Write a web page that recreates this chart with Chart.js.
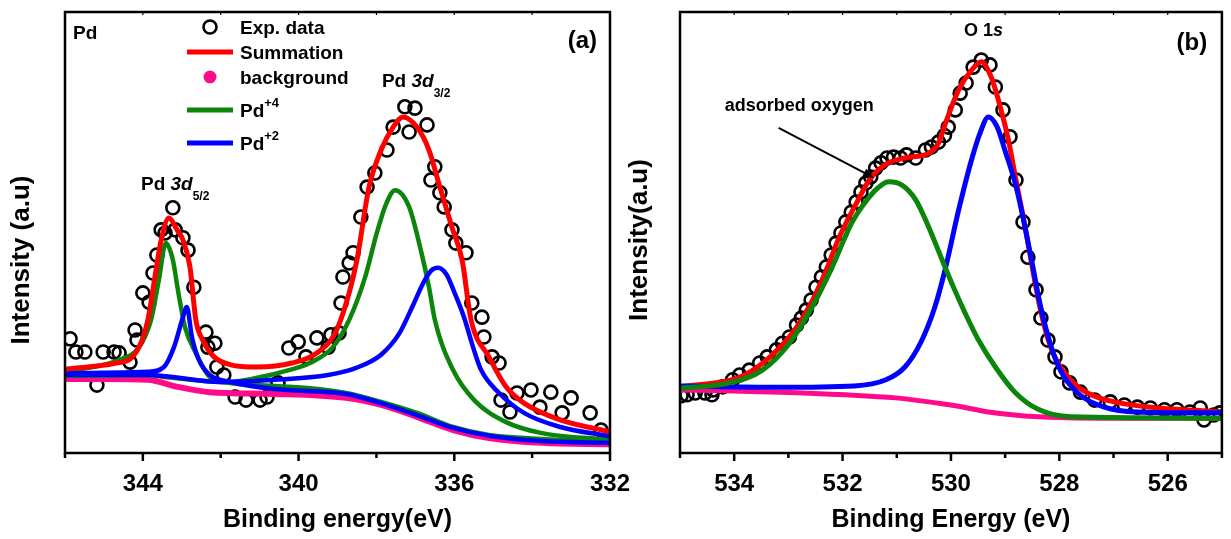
<!DOCTYPE html>
<html>
<head>
<meta charset="utf-8">
<title>Pd 3d and O 1s XPS</title>
<script src="https://cdn.jsdelivr.net/npm/chart.js@4.4.1/dist/chart.umd.min.js"></script>
<style>
  html, body { margin: 0; padding: 0; background: #fff; }
  #wrap { position: relative; width: 1231px; height: 539px; overflow: hidden; }
  #chartA { position: absolute; left: 0; top: 0; }
  #chartB { position: absolute; left: 624px; top: 0; }
</style>
</head>
<body>
<div id="wrap">
  <canvas id="chartA" width="640" height="539"></canvas>
  <canvas id="chartB" width="607" height="539"></canvas>
</div>
<script>
const FONT = "'Liberation Sans', Arial, Helvetica, sans-serif";
const RED = '#ff0000', PINK = '#ff0a8a', GREEN = '#0b860b', BLUE = '#0000ff';

// ---- panel (a) : Pd 3d ----
const aTickLabels = [344, 340, 336, 332];
const aMinorTicks = [346, 342, 338, 334];
const aTopTicks = [344, 342, 340, 338, 336, 334];

const aExpEV = [345.87, 345.72, 345.49, 345.18, 345.02, 344.74, 344.61, 344.33, 344.20, 344.15, 344.00, 343.84, 343.74, 343.64, 343.53, 343.43, 343.23, 343.17, 342.97, 342.84, 342.69, 342.38, 342.33, 342.15, 342.10, 341.92, 341.63, 341.35, 340.99, 340.81, 340.53, 340.25, 340.01, 339.81, 339.53, 339.24, 339.17, 338.96, 338.91, 338.86, 338.70, 338.60, 338.40, 338.24, 338.04, 337.73, 337.57, 337.27, 337.16, 337.01, 336.70, 336.60, 336.50, 336.37, 336.26, 336.06, 335.96, 335.70, 335.55, 335.29, 335.24, 335.03, 334.85, 334.80, 334.57, 334.39, 334.03, 333.80, 333.52, 333.23, 333.00, 332.51, 332.23];
const aExpI = [25.9, 22.9, 22.9, 15.4, 22.9, 22.9, 22.7, 20.6, 27.9, 25.6, 36.3, 34.2, 40.8, 44.9, 50.6, 49.9, 55.6, 50.6, 48.8, 46.0, 37.6, 27.4, 24.0, 24.9, 19.5, 17.7, 12.7, 12.0, 12.0, 12.7, 15.9, 23.8, 25.2, 21.8, 26.1, 24.0, 26.8, 27.2, 34.0, 39.9, 43.1, 45.4, 53.5, 60.3, 63.5, 68.7, 73.9, 78.5, 72.8, 78.2, 74.4, 61.9, 64.9, 59.0, 55.8, 50.6, 47.6, 45.4, 34.0, 30.8, 26.3, 21.8, 20.4, 12.0, 9.3, 13.6, 14.3, 10.4, 13.8, 9.1, 12.5, 9.1, 5.2];

const aSumEV = [346.00, 345.13, 344.74, 344.30, 344.02, 343.87, 343.69, 343.53, 343.33, 343.12, 342.97, 342.79, 342.64, 342.46, 342.17, 341.74, 341.09, 340.17, 339.53, 339.06, 338.70, 338.50, 338.19, 337.88, 337.57, 337.32, 336.96, 336.65, 336.37, 336.06, 335.80, 335.57, 335.11, 334.67, 334.21, 333.28, 332.00];
const aSumI = [19.0, 19.8, 20.3, 21.5, 25.6, 30.2, 39.9, 48.3, 53.3, 50.6, 48.3, 42.2, 30.2, 25.6, 21.8, 20.0, 19.5, 20.4, 22.7, 27.2, 36.3, 43.8, 60.3, 68.7, 73.9, 76.2, 73.9, 68.7, 60.3, 51.2, 43.8, 30.2, 21.8, 15.0, 11.3, 7.5, 4.8];

const aBgEV = [346.00, 345.00, 343.87, 343.10, 342.28, 340.63, 338.78, 337.88, 336.96, 336.03, 335.11, 333.75, 332.00];
const aBgI = [16.8, 16.8, 16.6, 15.0, 13.8, 13.4, 12.5, 10.9, 8.2, 5.2, 3.4, 2.3, 2.0];

// Pd+4, 3d5/2 and 3d3/2 components
const aPd4aEV = [346.00, 344.61, 344.10, 343.79, 343.59, 343.41, 343.23, 343.10, 342.92, 342.64, 342.28, 341.81, 341.09, 339.71, 338.78, 337.88, 336.96, 336.03, 335.11, 333.75, 332.00];
const aPd4aI = [18.4, 21.1, 24.0, 30.2, 39.2, 47.6, 43.8, 37.0, 28.6, 22.7, 17.2, 15.9, 15.4, 14.7, 13.6, 11.6, 9.1, 5.9, 4.1, 3.2, 2.5];
const aPd4bEV = [346.00, 343.87, 343.38, 341.81, 341.09, 340.25, 339.71, 339.12, 338.70, 338.29, 337.99, 337.75, 337.52, 337.16, 336.86, 336.65, 336.50, 336.03, 335.49, 334.67, 333.75, 332.00];
const aPd4bI = [17.5, 17.7, 17.2, 16.1, 17.0, 18.8, 20.4, 24.0, 30.2, 39.9, 49.9, 56.5, 59.6, 55.8, 46.0, 37.6, 30.2, 18.8, 12.0, 7.0, 4.5, 3.0];

// Pd+2, 3d5/2 and 3d3/2 components
const aPd2aEV = [346.00, 343.87, 343.46, 343.20, 342.97, 342.87, 342.74, 342.56, 342.28, 341.74, 340.63, 338.78, 337.88, 336.96, 336.03, 335.11, 333.75, 332.00];
const aPd2aI = [18.1, 18.4, 19.5, 24.0, 30.8, 33.1, 26.3, 21.1, 17.7, 16.1, 14.5, 13.4, 11.3, 8.6, 5.7, 3.9, 2.7, 2.3];
const aPd2bEV = [346.00, 343.87, 341.99, 340.63, 339.24, 338.52, 337.88, 337.42, 337.06, 336.80, 336.60, 336.42, 336.20, 336.00, 335.75, 335.50, 335.31, 334.85, 334.21, 333.28, 332.00];
const aPd2bI = [17.7, 17.7, 16.1, 16.6, 17.7, 19.3, 22.3, 27.0, 33.5, 38.5, 41.3, 42.0, 40.5, 36.5, 30.8, 23.5, 18.8, 13.6, 9.1, 5.9, 3.8];

// ---- panel (b) : O 1s ----
const bTickLabels = [534, 532, 530, 528, 526];
const bMinorTicks = [535, 533, 531, 529, 527, 525];
const bTopTicks = [534, 533, 532, 531, 530, 529, 528, 527, 526];

const bExpEV = [534.98, 534.87, 534.72, 534.54, 534.41, 534.39, 534.21, 534.03, 533.90, 533.72, 533.53, 533.39, 533.22, 533.11, 532.98, 532.85, 532.76, 532.67, 532.58, 532.49, 532.39, 532.30, 532.21, 532.12, 532.03, 531.94, 531.84, 531.75, 531.66, 531.57, 531.48, 531.39, 531.29, 531.18, 531.06, 530.93, 530.82, 530.65, 530.47, 530.36, 530.23, 530.12, 530.05, 529.92, 529.83, 529.72, 529.59, 529.44, 529.28, 529.18, 529.04, 528.91, 528.80, 528.67, 528.58, 528.43, 528.34, 528.21, 528.08, 527.97, 527.81, 527.61, 527.35, 527.06, 526.80, 526.56, 526.32, 526.06, 525.83, 525.59, 525.40, 525.33, 525.15, 525.04];
const bExpI = [13.0, 13.2, 13.6, 13.6, 13.2, 14.3, 15.0, 16.6, 17.7, 18.8, 20.4, 21.8, 23.4, 24.9, 26.3, 29.0, 30.6, 32.4, 34.7, 37.6, 39.9, 42.2, 44.9, 47.6, 49.9, 52.4, 54.6, 56.9, 59.2, 61.2, 62.6, 64.6, 65.8, 66.9, 67.1, 66.9, 67.6, 66.9, 68.7, 69.4, 70.5, 72.0, 73.9, 77.8, 81.6, 83.9, 87.5, 89.1, 88.0, 83.0, 77.8, 71.7, 61.9, 52.4, 44.4, 37.0, 30.6, 25.6, 21.8, 18.4, 15.9, 13.8, 12.0, 11.6, 10.9, 10.4, 10.2, 9.8, 9.8, 9.3, 10.2, 7.5, 8.6, 9.1];

const bSumEV = [535.00, 533.94, 533.59, 533.17, 532.85, 532.56, 532.30, 532.06, 531.75, 531.50, 531.20, 530.85, 530.41, 530.23, 530.08, 529.86, 529.62, 529.44, 529.26, 529.09, 528.94, 528.80, 528.63, 528.52, 528.36, 528.16, 527.84, 527.48, 526.87, 525.00];
const bSumI = [15.0, 17.0, 19.3, 23.8, 28.5, 34.5, 41.5, 49.0, 56.5, 62.0, 65.5, 66.9, 68.0, 70.3, 75.5, 82.3, 86.8, 88.7, 85.3, 78.5, 71.0, 61.9, 51.2, 43.5, 33.1, 24.0, 17.2, 13.6, 11.3, 9.3];

const bBgEV = [535.00, 533.17, 531.94, 531.02, 530.23, 529.86, 529.31, 528.39, 527.17, 525.00];
const bBgI = [14.3, 13.8, 13.2, 12.5, 11.3, 10.6, 9.3, 8.2, 7.9, 7.9];

const bAdsEV = [535.00, 534.08, 533.48, 532.98, 532.56, 532.19, 531.83, 531.51, 531.33, 531.15, 530.91, 530.65, 530.41, 530.17, 529.95, 529.73, 529.50, 529.18, 528.82, 528.39, 527.79, 525.00];
const bAdsI = [14.7, 15.9, 18.8, 24.9, 33.1, 42.2, 52.2, 58.0, 60.3, 61.5, 60.8, 57.4, 51.2, 44.0, 37.5, 31.5, 25.8, 19.5, 13.8, 9.9, 8.2, 7.9];

const bLatEV = [535.00, 533.22, 531.79, 531.20, 530.85, 530.56, 530.30, 530.10, 529.86, 529.62, 529.45, 529.31, 529.15, 529.00, 528.80, 528.63, 528.50, 528.36, 528.16, 527.97, 527.66, 527.17, 526.56, 525.00];
const bLatI = [15.2, 14.9, 15.2, 16.6, 19.5, 25.0, 33.0, 42.0, 55.0, 66.5, 73.0, 76.2, 74.0, 68.5, 60.5, 51.0, 43.0, 34.0, 24.5, 18.5, 13.6, 10.4, 9.3, 9.1];

function pts(xs, ys) {
  return xs.map((x, i) => ({ x: x, y: ys[i] }));
}

function curve(xs, ys, color, width, order) {
  return {
    data: pts(xs, ys),
    showLine: true,
    borderColor: color,
    borderWidth: width,
    pointRadius: 0,
    cubicInterpolationMode: 'monotone',
    order: order
  };
}

function circles(xs, ys) {
  return {
    data: pts(xs, ys),
    showLine: false,
    pointRadius: 6.5,
    pointBorderWidth: 2.6,
    pointBorderColor: '#000',
    pointBackgroundColor: 'rgba(0,0,0,0)',
    order: 10
  };
}

function bold(size, italic) {
  return (italic ? 'italic ' : '') + 'bold ' + size + 'px ' + FONT;
}

// parts: [text, size, italic, baseline shift]
function richText(ctx, parts, x, y, align) {
  let w = 0;
  parts.forEach(p => { ctx.font = bold(p[1], p[2]); w += ctx.measureText(p[0]).width; });
  let cx = align === 'center' ? x - w / 2 : (align === 'right' ? x - w : x);
  ctx.textAlign = 'left';
  ctx.textBaseline = 'alphabetic';
  parts.forEach(p => {
    ctx.font = bold(p[1], p[2]);
    ctx.fillText(p[0], cx, y + (p[3] || 0));
    cx += ctx.measureText(p[0]).width;
  });
}

function vTitle(ctx, text, x, y) {
  ctx.save();
  ctx.translate(x, y);
  ctx.rotate(-Math.PI / 2);
  ctx.font = bold(26);
  ctx.textAlign = 'center';
  ctx.textBaseline = 'middle';
  ctx.fillText(text, 0, 0);
  ctx.restore();
}

function frame(chart, major, minor, top) {
  const { ctx, chartArea: a, scales: { x } } = chart;
  ctx.save();
  ctx.strokeStyle = '#000';
  ctx.lineWidth = 2.5;
  ctx.strokeRect(a.left, a.top, a.right - a.left, a.bottom - a.top);
  const tick = (v, y0, y1, w) => {
    const px = x.getPixelForValue(v);
    ctx.lineWidth = w;
    ctx.beginPath();
    ctx.moveTo(px, y0);
    ctx.lineTo(px, y1);
    ctx.stroke();
  };
  major.forEach(v => tick(v, a.bottom, a.bottom + 8, 2.5));
  minor.forEach(v => tick(v, a.bottom, a.bottom + 5, 2.5));
  top.forEach(v => tick(v, a.top, a.top + 3, 1.2));
  ctx.restore();
}

function makeChart(id, datasets, xMin, xMax, labels, xTitle, pad, draw) {
  return new Chart(document.getElementById(id), {
    type: 'scatter',
    data: { datasets: datasets },
    options: {
      responsive: false,
      animation: false,
      events: [],
      devicePixelRatio: 1,
      layout: { padding: pad },
      plugins: { legend: { display: false }, tooltip: { enabled: false } },
      scales: {
        x: {
          type: 'linear',
          min: xMin,
          max: xMax,
          reverse: true,
          afterBuildTicks: (s) => { s.ticks = labels.map(v => ({ value: v })); },
          afterFit: (s) => { s.height = 86; s.paddingLeft = 0; s.paddingRight = 0; },
          grid: { display: false, drawTicks: false },
          border: { display: false },
          ticks: {
            color: '#000',
            font: { family: FONT, size: 24, weight: 'bold' },
            padding: 17,
            maxRotation: 0,
            autoSkip: false
          },
          title: {
            display: true,
            text: xTitle,
            color: '#000',
            font: { family: FONT, size: 25, weight: 'bold' },
            padding: { top: 0, bottom: 4 }
          }
        },
        y: { display: false, min: 0, max: 100 }
      }
    },
    plugins: [{ id: 'decor', afterDatasetsDraw: draw }]
  });
}

makeChart('chartA', [
  circles(aExpEV, aExpI),
  curve(aBgEV, aBgI, PINK, 6, 6),
  curve(aPd4aEV, aPd4aI, GREEN, 4.5, 5),
  curve(aPd4bEV, aPd4bI, GREEN, 4.5, 4),
  curve(aPd2aEV, aPd2aI, BLUE, 4.5, 3),
  curve(aPd2bEV, aPd2bI, BLUE, 4.5, 2),
  curve(aSumEV, aSumI, RED, 5, 1)
], 332, 346, aTickLabels, 'Binding energy(eV)', { left: 65, right: 30, top: 12, bottom: 0 }, (chart) => {
  const { ctx, chartArea: a, scales: { x, y } } = chart;
  frame(chart, aTickLabels, aMinorTicks, aTopTicks);
  ctx.save();
  ctx.fillStyle = '#000';
  vTitle(ctx, 'Intensity (a.u)', a.left - 43, a.top + 248);
  richText(ctx, [['Pd', 19]], a.left + 8, a.top + 27, 'left');
  richText(ctx, [['(a)', 24]], a.right - 13, a.top + 36, 'right');
  richText(ctx, [['Pd ', 19], ['3d', 19, true], ['3/2', 12, false, 10]], x.getPixelForValue(336.98), y.getPixelForValue(83.0), 'center');
  richText(ctx, [['Pd ', 19], ['3d', 19, true], ['5/2', 12, false, 10]], x.getPixelForValue(343.17), y.getPixelForValue(59.6), 'center');

  // legend
  const sx = a.left + 145, tx = a.left + 175;
  const rows = [15, 40, 65, 98, 131].map(r => a.top + r);
  ctx.lineWidth = 2.6;
  ctx.strokeStyle = '#000';
  ctx.beginPath();
  ctx.arc(sx, rows[0], 6.5, 0, Math.PI * 2);
  ctx.stroke();
  ctx.fillStyle = PINK;
  ctx.beginPath();
  ctx.arc(sx, rows[2], 6.5, 0, Math.PI * 2);
  ctx.fill();
  [[rows[1], RED], [rows[3], GREEN], [rows[4], BLUE]].forEach(([ry, c]) => {
    ctx.strokeStyle = c;
    ctx.lineWidth = 5;
    ctx.beginPath();
    ctx.moveTo(sx - 23, ry);
    ctx.lineTo(sx + 23, ry);
    ctx.stroke();
  });
  ctx.fillStyle = '#000';
  richText(ctx, [['Exp. data', 19]], tx, rows[0] + 7, 'left');
  richText(ctx, [['Summation', 19]], tx, rows[1] + 7, 'left');
  richText(ctx, [['background', 19]], tx, rows[2] + 7, 'left');
  richText(ctx, [['Pd', 19], ['+4', 13, false, -10]], tx, rows[3] + 7, 'left');
  richText(ctx, [['Pd', 19], ['+2', 13, false, -10]], tx, rows[4] + 7, 'left');
  ctx.restore();
});

makeChart('chartB', [
  circles(bExpEV, bExpI),
  curve(bSumEV, bSumI, RED, 5, 5),
  curve(bBgEV, bBgI, PINK, 5, 4),
  curve(bLatEV, bLatI, BLUE, 5, 3),
  curve(bAdsEV, bAdsI, GREEN, 5, 2)
], 525, 535, bTickLabels, 'Binding Energy (eV)', { left: 56, right: 6, top: 12, bottom: 0 }, (chart) => {
  const { ctx, chartArea: a, scales: { x, y } } = chart;
  frame(chart, bTickLabels, bMinorTicks, bTopTicks);
  ctx.save();
  ctx.fillStyle = '#000';
  vTitle(ctx, 'Intensity(a.u)', a.left - 40, a.top + 228);
  richText(ctx, [['O 1', 18], ['s', 18, true]], x.getPixelForValue(529.40), y.getPixelForValue(94.6), 'center');
  richText(ctx, [['(b)', 24]], a.right - 30, a.top + 38, 'center');
  richText(ctx, [['adsorbed oxygen', 18]], x.getPixelForValue(532.80), y.getPixelForValue(77.6), 'center');

  // arrow to the shoulder
  const x0 = x.getPixelForValue(533.18), y0 = y.getPixelForValue(73.7);
  const x1 = x.getPixelForValue(531.42), y1 = y.getPixelForValue(62.4);
  const ang = Math.atan2(y1 - y0, x1 - x0);
  ctx.strokeStyle = '#000';
  ctx.lineWidth = 2;
  ctx.beginPath();
  ctx.moveTo(x0, y0);
  ctx.lineTo(x1 - 8 * Math.cos(ang), y1 - 8 * Math.sin(ang));
  ctx.stroke();
  ctx.beginPath();
  ctx.moveTo(x1, y1);
  ctx.lineTo(x1 - 11 * Math.cos(ang) + 4.5 * Math.sin(ang), y1 - 11 * Math.sin(ang) - 4.5 * Math.cos(ang));
  ctx.lineTo(x1 - 11 * Math.cos(ang) - 4.5 * Math.sin(ang), y1 - 11 * Math.sin(ang) + 4.5 * Math.cos(ang));
  ctx.closePath();
  ctx.fill();
  ctx.restore();
});
</script>
</body>
</html>
